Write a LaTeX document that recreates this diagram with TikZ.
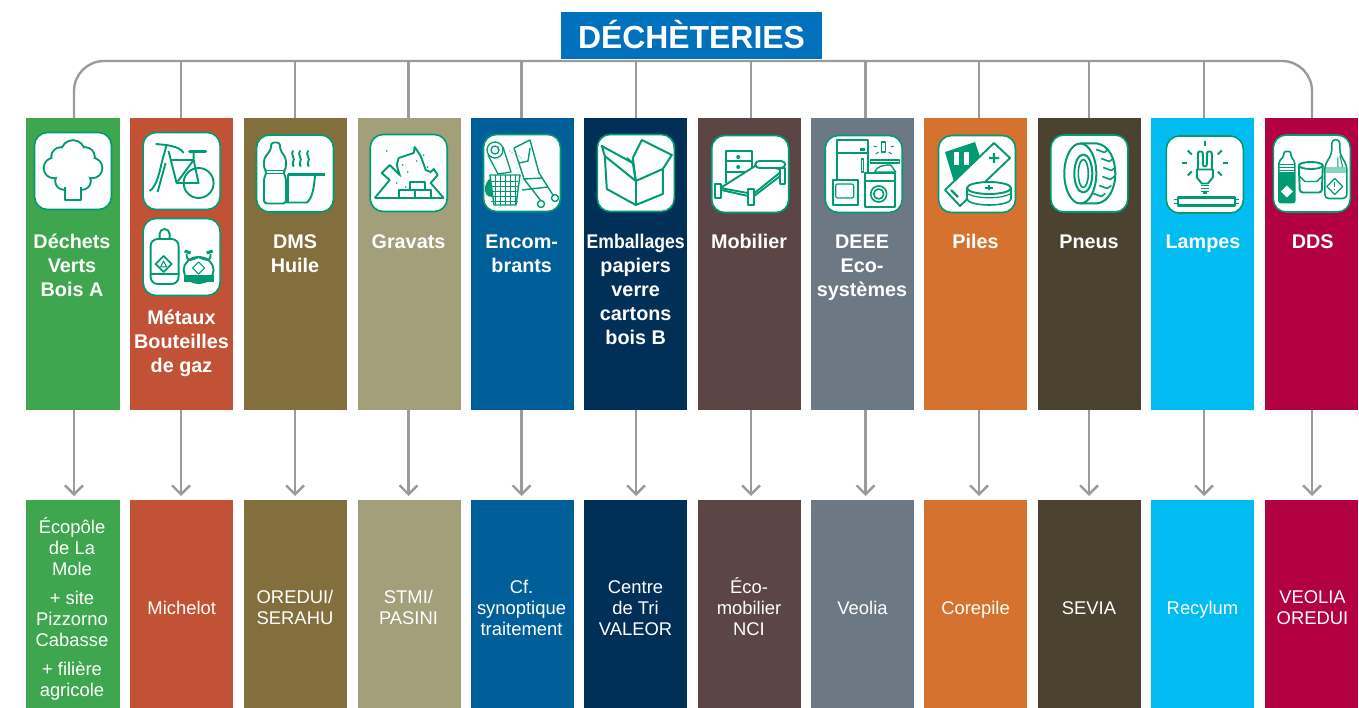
\documentclass[tikz,border=0pt]{standalone}
\usepackage{fontspec}
\setmainfont{Liberation Sans}
\usetikzlibrary{arrows.meta, positioning}

\definecolor{titleblue}{HTML}{0071BC}
\definecolor{linegrey}{HTML}{9A9A9F}
\definecolor{icongreen}{HTML}{009A74}
\definecolor{colA}{HTML}{3DA64E}
\definecolor{colB}{HTML}{C25236}
\definecolor{colC}{HTML}{836F3D}
\definecolor{colD}{HTML}{A39F7B}
\definecolor{colE}{HTML}{005F99}
\definecolor{colF}{HTML}{003057}
\definecolor{colG}{HTML}{5C4645}
\definecolor{colH}{HTML}{6C7884}
\definecolor{colI}{HTML}{D57230}
\definecolor{colJ}{HTML}{4B4230}
\definecolor{colK}{HTML}{00BCF1}
\definecolor{colL}{HTML}{B30040}

\tikzset{
  colbar/.style={inner sep=0pt,outer sep=0pt,minimum width=103pt},
  toplabel/.style={anchor=north,inner sep=0pt,text=white,align=center,
    font=\fontsize{19.8}{24}\selectfont\bfseries},
  endlabel/.style={inner sep=0pt,text=white,align=center,
    font=\fontsize{18.4}{21}\selectfont},
  iconbox/.style={draw=icongreen,fill=white,line width=1.6pt,rounded corners=13pt,
    minimum size=77pt,inner sep=0pt},
  link/.style={draw=linegrey,line width=2.4pt},
  icon/.style={draw=icongreen,line width=1.9pt,line join=round},
  iconfill/.style={fill=icongreen,draw=none}
}

\begin{document}
\begin{tikzpicture}[x=1pt,y=-1pt]
  \useasboundingbox (0,0) rectangle (1359,708);

  % columns
  \foreach \i/\cx/\w/\colr in {1/73.2/93.5/colA, 2/181.5/103/colB, 3/295.5/103/colC,
      4/409/103/colD, 5/522.5/103/colE, 6/635.5/103/colF, 7/749.5/103/colG,
      8/862.5/103/colH, 9/975.5/103/colI, 10/1089.5/103/colJ, 11/1202.5/103/colK,
      12/1311.5/93.5/colL} {
    \node[colbar,fill=\colr,minimum width=\w pt,minimum height=292pt] (top\i) at (\cx,264) {};
    \node[colbar,fill=\colr,minimum width=\w pt,minimum height=208pt] (bot\i) at (\cx,604) {};
  }

  \foreach \i/\x in {1/74, 2/181, 3/295, 4/408.5, 5/521.5, 6/636, 7/751, 8/865.5,
      9/979, 10/1089, 11/1204, 12/1312}
    \coordinate (bus\i) at (\x,61);

  % bus and arrows
  \draw[link,rounded corners=30pt] (bus1 |- top1.north) -- (bus1) -- (bus12) -- (bus12 |- top12.north);
  \foreach \i in {2,...,11}
    \draw[link] (bus\i) -- (bus\i |- top\i.north);
  \foreach \i in {1,...,12}
    \draw[link,-{Straight Barb[length=9pt,width=18pt,line width=2.4pt]},shorten >=4pt]
      (bus\i |- top\i.south) -- (bus\i |- bot\i.north);

  \node[fill=titleblue,text=white,minimum width=261pt,minimum height=47pt,inner sep=0pt,
    font=\fontsize{31.9}{36}\selectfont\bfseries] (title) at (691.5,35.5) {\raisebox{3pt}{DÉCHÈTERIES}};

  % labels
  \foreach \i/\x/\y/\txt in {1/72/232/{Déchets\\Verts\\Bois A}, 2/181.5/307.5/{Métaux\\Bouteilles\\de gaz},
      3/295/232/{DMS\\Huile}, 4/408.5/232/{Gravats}, 5/521.7/232/{Encom-\\brants},
      6/635.7/232/{\scalebox{.89}[1]{Emballages}\\papiers\\verre\\cartons\\bois B},
      7/749/232/{Mobilier}, 8/862/232/{DEEE\\Eco-\\systèmes}, 9/975.6/232/{Piles},
      10/1089/232/{Pneus}, 11/1203/232/{Lampes}, 12/1312.7/232/{DDS}}
    \node[toplabel] (lab\i) at (\x,\y) {\strut\txt};

  \foreach \i/\x/\txt in {1/72/{Écopôle\\de La\\Mole\\[8pt]+ site\\Pizzorno\\Cabasse\\[8pt]+ filière\\agricole},
      2/181.7/{Michelot}, 3/295/{OREDUI/\\SERAHU}, 4/408.5/{STMI/\\PASINI},
      5/521.5/{Cf.\\synoptique\\traitement}, 6/635.5/{Centre\\de Tri\\VALEOR},
      7/749/{Éco-\\mobilier\\NCI}, 8/862.5/{Veolia}, 9/975.5/{Corepile},
      10/1089/{SEVIA}, 11/1202.5/{Recylum}, 12/1312.5/{VEOLIA\\OREDUI}}
    \node[endlabel] (res\i) at (\x,610) {\strut\txt\strut};

  % icon frames
  \foreach \i/\x/\y in {1/73/171, 2/181.6/171, 3/181.6/257, 4/295/173.5, 5/408.7/173,
      6/522/173, 7/635.8/173, 8/750.2/174, 9/863.7/174, 10/977/174, 11/1089.3/173.5,
      12/1204.8/174.5, 13/1311.8/173.5}
    \node[iconbox] (ic\i) at (\x,\y) {};

  % tree
  \begin{scope}[shift={(ic1.center)}]
    \foreach \r in {1.8,-0.2} {
      \ifdim\r pt>0pt \def\shade{icongreen}\else \def\shade{white}\fi
      \foreach \cx/\cy/\cr in {0/-19/11, -12/-14/9, 12/-14/9, -19/-3/9.5, 19/-3/9.5,
          -9/10/8, 9/10/8, 0/0/14}
        \fill[\shade] (\cx,\cy) circle ({\cr+\r});
    }
    \draw[icon,fill=white] (-8,16) -- (-8,29) -- (8,29) -- (8,16);
    \fill[white] (-7,12) rectangle (7,20);
  \end{scope}

  % bicycle
  \begin{scope}[shift={(ic2.center)}]
    \draw[icon] (17,12) circle (15);
    \draw[icon] (-26,-27) -- (-15,-26) .. controls (-5,-24) and (0,-22) .. (2,-18);
    \draw[icon] (-15,-26) -- (-20,-8) .. controls (-23,6) and (-26,16) .. (-32,20);
    \draw[icon] (-16,-8) -- (-24,21);
    \draw[icon] (-11,-11) -- (12,-11) -- (17,12) -- (-5,12) -- (-13,-20);
    \draw[icon] (12,-18) -- (12,-11) -- (-5,12);
    \draw[icon,line width=3pt,line cap=round] (8,-19) -- (24,-19);
  \end{scope}

  % gas bottle and stove
  \begin{scope}[shift={(ic3.center)}]
    \draw[icon,rounded corners=5pt] (-22,-18) -- (-22,-28) -- (-12,-28) -- (-12,-18);
    \draw[icon,rounded corners=7pt] (-31,27) -- (-31,-18) -- (-3,-18) -- (-3,27) -- cycle;
    \draw[icon] (-31,17) -- (-3,17) (-18,-1) -- (-10,7) -- (-18,15) -- (-26,7) -- cycle;
    \draw[icon,line width=1pt] (-21,10) -- (-18,4) -- (-15,10) -- cycle;
    \draw[icon] (17,13) ellipse (15 and 13);
    \fill[iconfill] (2,18) rectangle (32,25);
    \draw[icon] (5,-3) .. controls (5,6) and (10,3) .. (17,0) .. controls (24,3) and (29,6) .. (29,-3);
    \draw[icon,line width=3pt] (3,-6) -- (9,-4) (25,-4) -- (31,-6);
    \draw[icon,line width=1.2pt] (17,5) -- (23,11) -- (17,17) -- (11,11) -- cycle;
  \end{scope}

  % bottle and pan
  \begin{scope}[shift={(ic4.center)}]
    \draw[icon,rounded corners=3pt] (-24,-31) -- (-15,-31) -- (-15,-24) -- (-9,-15) -- (-9,-5)
      -- (-12,-1) -- (-9,4) -- (-9,30) -- (-31,30) -- (-31,4) -- (-28,-1) -- (-31,-5) -- (-31,-15)
      -- (-24,-24) -- cycle;
    \draw[icon,line width=1pt] (-30,-3) -- (-10,-3) (-30,0) -- (-10,0);
    \draw[icon,line width=2.6pt] (-7,1) -- (30,1);
    \draw[icon] (-7,1) -- (-7,29) (20,2) .. controls (19,15) and (17,25) .. (12,29) -- (-9,29);
    \foreach \x in {-2,5,13}
      \draw[icon] (\x,-23) .. controls (\x-3,-19) and (\x+3,-15) .. (\x,-11)
        .. controls (\x-1,-9) and (\x,-8) .. (\x+1,-7);
  \end{scope}

  % rubble
  \begin{scope}[shift={(ic5.center)}]
    \draw[icon] (-34,25) -- (-19,7) -- (-27,0) -- (-19,-8) -- (-9,2) -- (-12,-8) -- (-10,-15)
      -- (5,-20) -- (6,-26) -- (12,-17) -- (17,-3) -- (22,-1) -- (25,-4) -- (29,2) -- (22,10) -- (35,25);
    \draw[icon,line width=2.4pt] (-34,25) -- (35,25);
    \draw[icon,fill=white] (-10,17) rectangle (6,25) (6,17) rectangle (22,25) (1,9) rectangle (16,17);
    \foreach \x/\y in {-22,15/-18,19/-6,-8/3,-12/10,-6/-8,8/-12,-3/14,-1}
      \fill[icongreen] (\x,\y) circle (.9);
  \end{scope}

  % bulky items
  \begin{scope}[shift={(ic6.center)}]
    \draw[icon,line width=1.3pt] (-34,-18) -- (-24,1) -- (-11,-1) -- (-19,-26);
    \draw[icon,line width=1.3pt,fill=white] (-27,-23) circle (8) (-27,-23) circle (4);
    \foreach \x/\y in {-24,-10/-20,-6/-18,-12/-22,-3/-17,-1/-15,-5}
      \fill[icongreen] (\x,\y) circle (.7);
    \fill[iconfill] (-27,4) .. controls (-36,4) and (-38,16) .. (-37,18) .. controls (-36,24) and (-32,24) .. (-27,24) -- cycle;
    \draw[icon,line width=1.4pt,fill=white] (-32,2) -- (-2,2) -- (-6,32) -- (-28,32) -- cycle;
    \foreach \y in {8,13,18,23,28}
      \draw[icon,line width=.8pt] (-31,\y) -- (-4,\y);
    \foreach \x in {-27,-22,-17,-12,-7}
      \draw[icon,line width=.8pt] (\x,2) -- (\x,32);
    \draw[icon,line width=1.4pt] (-8,-25) -- (6,-32) -- (8,-33) -- (17,0) -- (31,22) (-8,-25) -- (2,6) -- (19,28);
    \draw[icon,line width=1.4pt] (-3,-10) -- (6,-12) -- (8,-25) (2,6) -- (20,5) (0,17) -- (26,14);
    \draw[icon,line width=1.4pt,fill=white] (19,31) circle (3.5) (33,25) circle (3.5);
  \end{scope}

  % cardboard box
  \begin{scope}[shift={(ic7.center)}]
    \draw[icon,line width=2pt] (-31,-17) -- (-29,16) -- (0,32) -- (27,21) -- (27,-4) -- (0,8) -- cycle;
    \draw[icon,line width=2pt] (0,8) -- (0,32);
    \draw[icon,line width=2pt] (-31,-17) -- (-34,-27) -- (-3,-10) -- (0,8);
    \draw[icon,line width=2pt] (-3,-10) -- (-9,-15) (-3,-15) -- (6,-33) -- (36,-18) -- (27,-4);
    \draw[icon,line width=2pt] (-3,-15) -- (0,8);
  \end{scope}

  % bed and chest
  \begin{scope}[shift={(ic8.center)}]
    \draw[icon] (-24,9) -- (-24,-23) -- (2,-23) -- (2,0);
    \draw[icon] (-24,-13) -- (2,-13) (-24,-2) -- (2,-2);
    \fill[icongreen] (-12,-17) circle (2) (-12,-7) circle (2);
    \draw[icon,fill=white] (-25,11) -- (8,-10) -- (33,-4) -- (3,20) -- (-30,14) -- cycle;
    \draw[icon,fill=white,rounded corners=4pt] (5,-6) -- (5,-13) -- (35,-13) -- (35,-6) -- cycle;
    \draw[icon,fill=white] (-35,10) rectangle (-29,24) (-2,15) rectangle (4,31) (30,-6) rectangle (35,10);
    \draw[icon] (-29,16) -- (-2,22) (4,22) -- (30,2);
  \end{scope}

  % electrical goods
  \begin{scope}[shift={(ic9.center)}]
    \draw[icon,line width=1.6pt] (-27,6) -- (-27,-34) -- (4,-34) -- (4,-1);
    \draw[icon,line width=1.6pt] (-27,-21) -- (4,-21);
    \draw[icon,line width=1.2pt] (-2,-15) rectangle (0,-2);
    \fill[icongreen] (-4,-26) rectangle (1,-23);
    \draw[icon,line width=1.6pt,fill=white] (-31,6) rectangle (-6,31);
    \draw[icon,line width=1.2pt,fill=white,rounded corners=2pt] (-28,10) rectangle (-10,24);
    \draw[icon,line width=1.6pt,fill=white] (1,-1) rectangle (31,33);
    \draw[icon,line width=1.6pt] (1,7) -- (31,7) (15,20) circle (8) (15,20) circle (5);
    \draw[icon,line width=1.2pt] (7,-14) rectangle (36,-11);
    \draw[icon,line width=1.4pt,fill=white] (11,-2) .. controls (13,-8) and (20,-9) .. (27,-9) -- (32,-2) -- cycle;
    \draw[icon,line width=1.2pt] (18,-32) rectangle (22,-22);
    \foreach \x/\y/\u/\v in {10/-28/13/-27, 27/-27/30/-28, 12/-20/15/-22, 25/-22/28/-20}
      \draw[icon,line width=1pt] (\x,\y) -- (\u,\v);
  \end{scope}

  % batteries
  \begin{scope}[shift={(ic10.center)}]
    \fill[iconfill] (-32,-22) -- (-2,-32) -- (3,-17) -- (-23,8) -- cycle;
    \foreach \x in {-23,-13}
      \fill[white] (\x,-22) rectangle (\x+5,-9);
    \draw[icon,fill=white] (17,-31) -- (33,-16) -- (-17,32) -- (-32,16) -- cycle;
    \draw[icon,line width=2.4pt] (12,-16) -- (22,-16) (17,-21) -- (17,-11) (-26,16) -- (-19,23);
    \fill[white,draw=icongreen,line width=1.6pt] (-10,14) -- (-10,25) arc (180:0:22 and 6) -- (34,14) -- cycle;
    \draw[icon,fill=white] (12,14) ellipse (22 and 6);
    \draw[icon,line width=1.2pt] (-9,20) .. controls (0,25) and (24,25) .. (33,20);
    \draw[icon,line width=1.2pt] (8,14) -- (16,14) (12,11) -- (12,16);
  \end{scope}

  % tyre
  \begin{scope}[shift={(ic11.center)}]
    \draw[icon,line width=2pt] (-9,-30) -- (8,-30) .. controls (20,-28) and (26,-14) .. (26,0)
      .. controls (26,14) and (20,28) .. (8,30) -- (-9,30);
    \draw[icon,line width=2pt] (-9,0) ellipse (16 and 30);
    \draw[icon,line width=2pt] (-6,0) ellipse (9 and 19);
    \draw[icon,line width=1.6pt] (-6,0) ellipse (5 and 14);
    \foreach \y/\x in {-21/15, -12/20, -3/22, 6/21, 15/18, 23/12}
      \draw[icon,line width=1.6pt] (\x-8,\y-3) -- (\x,\y) -- (\x+4,\y-3);
  \end{scope}

  % lamps
  \begin{scope}[shift={(ic12.center)}]
    \draw[icon,line width=2.2pt] (-27,23) rectangle (30,31);
    \draw[icon,line width=1.2pt] (-27,25) -- (-31,25) (-27,29) -- (-31,29) (30,25) -- (34,25) (30,29) -- (34,29);
    \draw[icon,rounded corners=2pt] (-7,-5) -- (-7,-23) -- (-2,-23) -- (-2,-8) -- (2,-8) -- (2,-23) -- (7,-23) -- (7,-5);
    \draw[icon] (-8,-5) -- (8,-5) -- (8,3) -- (3,9) -- (-3,9) -- (-8,3) -- cycle;
    \foreach \y in {11,14,17}
      \draw[icon,line width=1.6pt] (-4,\y) -- (4,\y);
    \fill[icongreen] (-2,18) rectangle (2,20);
    \foreach \x/\y/\u/\v in {0/-33/0/-28, -17/-24/-13/-20, 17/-24/13/-20, -23/-11/-18/-11,
        23/-11/18/-11, -17/1/-13/-3, 17/1/13/-3}
      \draw[icon,line width=2pt] (\x,\y) -- (\u,\v);
  \end{scope}

  % hazardous products
  \begin{scope}[shift={(ic13.center)}]
    \draw[icon,line width=1.6pt,rounded corners=2pt] (-33,29) -- (-33,-12) -- (-28,-17) -- (-28,-22) -- (-21,-22)
      -- (-21,-17) -- (-17,-12) -- (-17,29) -- cycle;
    \fill[iconfill] (-33,-1) rectangle (-17,29);
    \draw[icon,line width=.8pt] (-33,-9) -- (-17,-9) (-33,-6) -- (-17,-6) (-33,-3) -- (-17,-3);
    \fill[white] (-25,12) -- (-19,18) -- (-25,24) -- (-31,18) -- cycle;
    \draw[icon,rounded corners=3pt] (-13,-8) -- (-12,19) -- (10,19) -- (11,-8);
    \draw[icon] (-1,-8) ellipse (12 and 3.5);
    \draw[icon,line width=1.4pt] (-12,3) -- (-7,8) -- (5,8) -- (10,3);
    \draw[icon,line width=1.6pt,rounded corners=4pt] (13,25) -- (13,-8) -- (20,-20) -- (20,-34) -- (28,-34) -- (28,-20) -- (35,-8) -- (35,25) -- cycle;
    \draw[icon,line width=1pt] (28,-18) -- (31,-6) -- (26,-6) -- (26,-16);
    \fill[icongreen!45] (14,-6) rectangle (34,0);
    \draw[icon,line width=1.2pt] (23,5) -- (31,13) -- (23,21) -- (15,13) -- cycle;
    \draw[icon,line width=1.2pt] (23,9) -- (23,14) (23,16) -- (23,17);
  \end{scope}
\end{tikzpicture}
\end{document}
